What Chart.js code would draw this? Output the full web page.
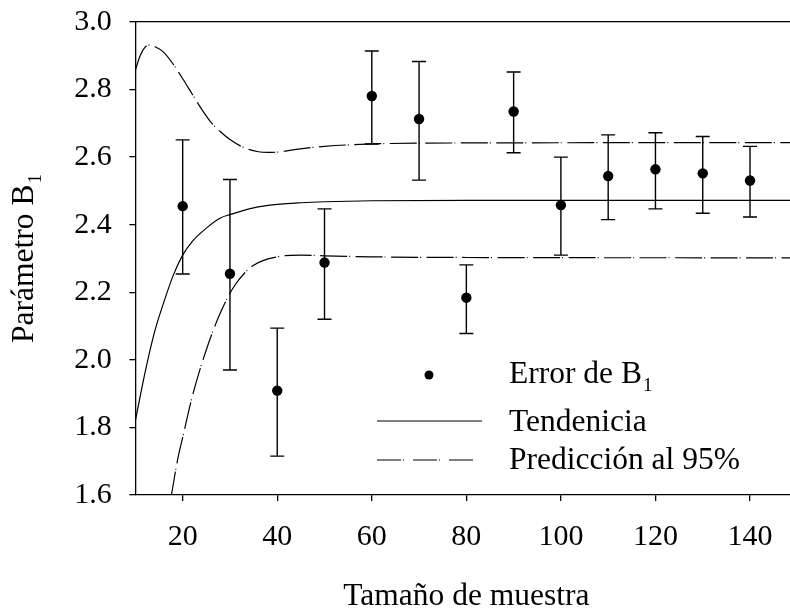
<!DOCTYPE html>
<html>
<head>
<meta charset="utf-8">
<script src="https://cdn.jsdelivr.net/npm/chart.js@4"></script>
<style>
  body { margin: 0; overflow: hidden; background: #fff; }
</style>
</head>
<body>
<canvas id="grafico" width="820" height="609"></canvas>
<script>
// Datos
const tamanos = [20, 30, 40, 50, 60, 70, 80, 90, 100, 110, 120, 130, 140];
const valoresB1 = [2.455, 2.255, 1.909, 2.288, 2.781, 2.713, 2.184, 2.735, 2.458, 2.544, 2.564, 2.552, 2.531];
const limiteSup = [2.651, 2.534, 2.094, 2.447, 2.914, 2.883, 2.281, 2.852, 2.600, 2.666, 2.672, 2.661, 2.632];
const limiteInf = [2.254, 1.970, 1.715, 2.120, 2.639, 2.532, 2.078, 2.613, 2.310, 2.415, 2.447, 2.434, 2.423];

// Curva de tendencia
const tendX = [10, 12, 14, 16, 18, 20, 22, 25, 28, 30, 35, 40, 45, 50, 60, 80, 150];
const tendY = [1.82, 1.96, 2.08, 2.17, 2.25, 2.31, 2.35, 2.39, 2.42, 2.43, 2.45, 2.46, 2.465, 2.468, 2.471, 2.472, 2.472];

// Bandas de predicción al 95%
const predSupX = [10, 11, 12, 13, 14, 16, 18, 20, 22, 24, 26, 28, 30, 33, 36, 38, 40, 44, 50, 60, 80, 150];
const predSupY = [2.858, 2.90, 2.925, 2.932, 2.928, 2.91, 2.875, 2.832, 2.787, 2.742, 2.703, 2.675, 2.652, 2.628, 2.616, 2.614, 2.615, 2.623, 2.632, 2.639, 2.642, 2.643];
const predInfX = [17.5, 19, 20, 22, 25, 28, 31, 35, 40, 45, 50, 60, 80, 150];
const predInfY = [1.59, 1.71, 1.77, 1.89, 2.03, 2.14, 2.22, 2.28, 2.305, 2.31, 2.308, 2.305, 2.303, 2.302];

const ticksX = [20, 40, 60, 80, 100, 120, 140];
const ticksY = [1.6, 1.8, 2.0, 2.2, 2.4, 2.6, 2.8, 3.0];

const leyendaTextos = ['Error de B', 'Tendenicia', 'Predicción al 95%'];

const fuente = '"Liberation Serif", "Times New Roman", serif';
const guion = [27, 2, 1, 5.5];

function puntos(xs, ys) {
    return xs.map((v, i) => ({ x: v, y: ys[i] }));
}

function textoConSubindice(ctx, texto, sub, x, y) {
    ctx.font = '31.5px ' + fuente;
    ctx.fillText(texto, x, y);
    const w = ctx.measureText(texto).width;
    ctx.font = '19px ' + fuente;
    ctx.fillText(sub, x + w + 1, y + 8);
}

// Barras de error
const barrasError = {
    id: 'barrasError',
    beforeDatasetsDraw(chart) {
        const ctx = chart.ctx;
        const x = chart.scales.x;
        const y = chart.scales.y;
        ctx.save();
        ctx.strokeStyle = '#000';
        ctx.lineWidth = 1.4;
        tamanos.forEach((t, i) => {
            const px = x.getPixelForValue(t);
            const arriba = y.getPixelForValue(limiteSup[i]);
            const abajo = y.getPixelForValue(limiteInf[i]);
            ctx.beginPath();
            ctx.moveTo(px, arriba); ctx.lineTo(px, abajo);
            ctx.moveTo(px - 7, arriba); ctx.lineTo(px + 7, arriba);
            ctx.moveTo(px - 7, abajo); ctx.lineTo(px + 7, abajo);
            ctx.stroke();
        });
        ctx.restore();
    }
};

// Leyenda y título del eje Y (con subíndices)
const textos = {
    id: 'textos',
    afterDraw(chart) {
        const ctx = chart.ctx;
        const area = chart.chartArea;
        ctx.save();
        ctx.fillStyle = '#000';
        ctx.strokeStyle = '#000';
        ctx.textBaseline = 'alphabetic';
        ctx.textAlign = 'left';

        // leyenda
        ctx.beginPath();
        ctx.arc(429, 375, 4.5, 0, Math.PI * 2);
        ctx.fill();
        textoConSubindice(ctx, leyendaTextos[0], '1', 509, 383);

        ctx.lineWidth = 1.2;
        ctx.beginPath();
        ctx.moveTo(377, 421); ctx.lineTo(482, 421);
        ctx.stroke();
        ctx.font = '31.5px ' + fuente;
        ctx.fillText(leyendaTextos[1], 509, 431);

        ctx.setLineDash([24, 2, 1, 9]);
        ctx.beginPath();
        ctx.moveTo(377, 460); ctx.lineTo(474, 460);
        ctx.stroke();
        ctx.setLineDash([]);
        ctx.fillText(leyendaTextos[2], 509, 469);

        // título eje Y
        ctx.translate(33, (area.top + area.bottom) / 2);
        ctx.rotate(-Math.PI / 2);
        ctx.font = '31.5px ' + fuente;
        const w1 = ctx.measureText('Parámetro B').width;
        ctx.font = '19px ' + fuente;
        const w2 = ctx.measureText('1').width;
        textoConSubindice(ctx, 'Parámetro B', '1', -(w1 + w2 + 1) / 2, 0);
        ctx.restore();
    }
};

const ejeComun = {
    grid: { drawOnChartArea: false, drawTicks: true, tickLength: 6, color: '#000', lineWidth: 1.3 },
    border: { display: true, color: '#000', width: 1.3 }
};

function sinRelleno(scale) {
    scale.paddingTop = 0;
    scale.paddingBottom = 0;
    scale.paddingLeft = 0;
    scale.paddingRight = 0;
}

const ctx = document.getElementById('grafico').getContext('2d');
new Chart(ctx, {
    type: 'line',
    data: {
        datasets: [
            {
                label: 'Tendenicia',
                data: puntos(tendX, tendY),
                borderColor: '#000',
                borderWidth: 1.2,
                pointRadius: 0,
                cubicInterpolationMode: 'monotone',
                fill: false
            },
            {
                label: 'Predicción al 95%',
                data: puntos(predSupX, predSupY),
                borderColor: '#000',
                borderWidth: 1.2,
                borderDash: guion,
                pointRadius: 0,
                cubicInterpolationMode: 'monotone',
                fill: false
            },
            {
                label: 'Predicción al 95% (inf)',
                data: puntos(predInfX, predInfY),
                borderColor: '#000',
                borderWidth: 1.2,
                borderDash: guion,
                pointRadius: 0,
                cubicInterpolationMode: 'monotone',
                fill: false
            },
            {
                label: 'Error de B1',
                data: puntos(tamanos, valoresB1),
                showLine: false,
                pointRadius: 5.2,
                pointBackgroundColor: '#000',
                pointBorderColor: '#000',
                pointBorderWidth: 0
            }
        ]
    },
    options: {
        responsive: false,
        animation: false,
        layout: { padding: { top: 22, right: 22.7, left: 0, bottom: 0 } },
        plugins: {
            legend: { display: false },
            tooltip: { enabled: false }
        },
        scales: {
            x: {
                type: 'linear',
                position: 'bottom',
                min: 10,
                max: 150,
                ...ejeComun,
                afterBuildTicks: scale => { scale.ticks = ticksX.map(v => ({ value: v })); },
                afterFit: scale => { scale.height = 114; sinRelleno(scale); },
                ticks: {
                    color: '#000',
                    padding: 18,
                    maxRotation: 0,
                    font: { family: fuente, size: 30 },
                    callback: v => String(v)
                },
                title: {
                    display: true,
                    text: 'Tamaño de muestra',
                    color: '#000',
                    font: { family: fuente, size: 31.5, lineHeight: 0.8 },
                    padding: { top: 0, bottom: 0 }
                }
            },
            x2: {
                type: 'linear',
                position: 'top',
                min: 10,
                max: 150,
                ticks: { display: false },
                grid: { display: false, drawTicks: false },
                border: { display: true, color: '#000', width: 1.3 },
                afterFit: scale => { scale.height = 0; sinRelleno(scale); }
            },
            y: {
                type: 'linear',
                position: 'left',
                min: 1.6,
                max: 3.0,
                ...ejeComun,
                afterBuildTicks: scale => { scale.ticks = ticksY.map(v => ({ value: v })); },
                afterFit: scale => { scale.width = 135.4; sinRelleno(scale); },
                ticks: {
                    color: '#000',
                    padding: 17.7,
                    font: { family: fuente, size: 30 },
                    callback: v => Number(v).toFixed(1)
                }
            }
        }
    },
    plugins: [barrasError, textos]
});
</script>
</body>
</html>
